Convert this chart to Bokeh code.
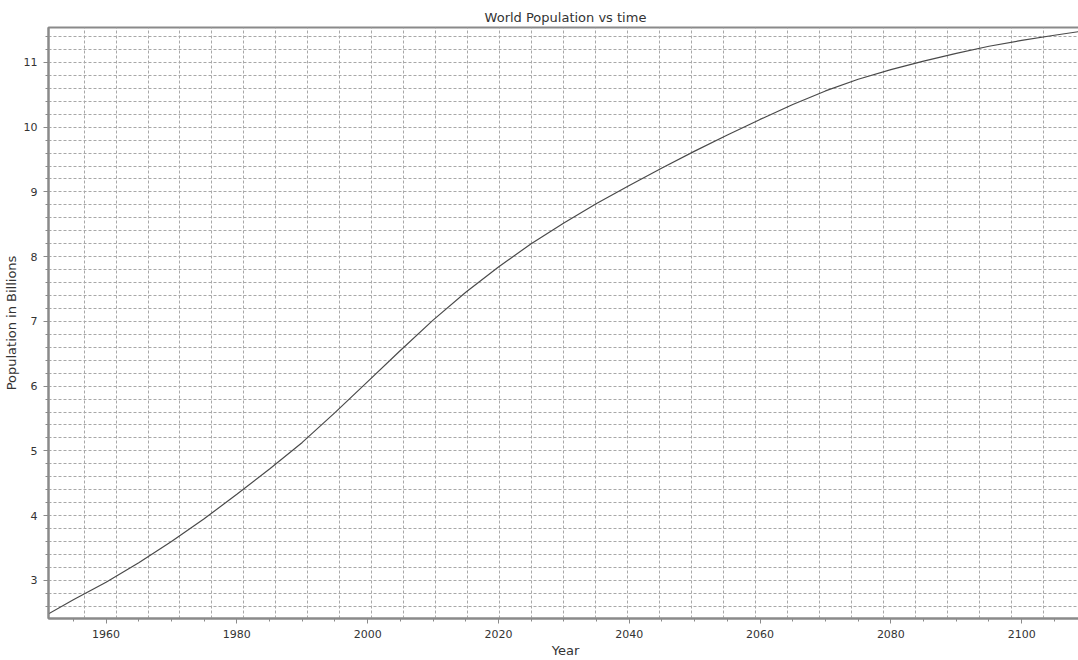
from bokeh.plotting import figure
from bokeh.models import SingleIntervalTicker, FixedTicker, Range1d
from bokeh.embed import file_html
from bokeh.resources import INLINE

# Data (year, population in billions)
years = [1951, 1955, 1960, 1965, 1970, 1975, 1980, 1985, 1990, 1995, 2000,
         2005, 2010, 2015, 2020, 2025, 2030, 2035, 2040, 2045, 2050, 2055,
         2060, 2065, 2070, 2075, 2080, 2085, 2090, 2095, 2100, 2105, 2109]
population = [2.47, 2.70, 2.97, 3.27, 3.60, 3.95, 4.33, 4.72, 5.13, 5.59, 6.07,
              6.55, 7.02, 7.45, 7.84, 8.20, 8.52, 8.82, 9.10, 9.37, 9.63, 9.88,
              10.12, 10.35, 10.56, 10.74, 10.89, 11.02, 11.14, 11.25, 11.34, 11.42, 11.48]

# vertical grid lines in the reference are spaced slightly differently from the ticks
grid_start, grid_step, grid_count = 1956.64, 4.888, 31
xgrid_positions = [grid_start + grid_step * k for k in range(grid_count)]

FONT = "DejaVu Sans"
TXT = "#333333"
AX = "#8a8a8a"

p = figure(width=1082, height=660, output_backend="svg", toolbar_location=None,
           title="World Population vs time",
           x_range=Range1d(1951.2, 2109.3), y_range=Range1d(2.41, 11.54),
           min_border_left=44, min_border_right=0, min_border_top=27, min_border_bottom=0,
           background_fill_color="white", border_fill_color="white")

p.title.align = "center"
p.title.text_font = FONT
p.title.text_font_size = "13px"
p.title.text_font_style = "normal"
p.title.text_color = TXT
p.title.standoff = 5

p.line(years, population, line_color="#4a4a4a", line_width=1.2)

p.xaxis.ticker = SingleIntervalTicker(interval=20, num_minor_ticks=4)
p.yaxis.ticker = SingleIntervalTicker(interval=1, num_minor_ticks=5)
p.xgrid.ticker = FixedTicker(ticks=xgrid_positions)
p.ygrid.ticker = SingleIntervalTicker(interval=0.2, num_minor_ticks=0)

for g in (p.xgrid, p.ygrid):
    g.grid_line_color = "#a8a8a8"
    g.grid_line_dash = "3 2"
    g.grid_line_width = 1
    g.grid_line_alpha = 1.0

p.xaxis.axis_label = "Year"
p.yaxis.axis_label = "Population in Billions"
for ax in (p.xaxis, p.yaxis):
    ax.axis_line_color = AX
    ax.axis_line_width = 2
    ax.major_tick_line_color = AX
    ax.minor_tick_line_color = AX
    ax.major_tick_out = 5
    ax.major_tick_in = 0
    ax.minor_tick_out = 3
    ax.minor_tick_in = 0
    ax.major_label_text_font = FONT
    ax.major_label_text_font_size = "11px"
    ax.major_label_text_color = TXT
    ax.axis_label_text_font = FONT
    ax.axis_label_text_font_size = "13px"
    ax.axis_label_text_font_style = "normal"
    ax.axis_label_text_color = TXT
    ax.axis_label_standoff = 2
    ax.major_label_standoff = 6

p.outline_line_color = AX
p.outline_line_width = 2

open("out.html", "w").write(file_html(p, INLINE))
